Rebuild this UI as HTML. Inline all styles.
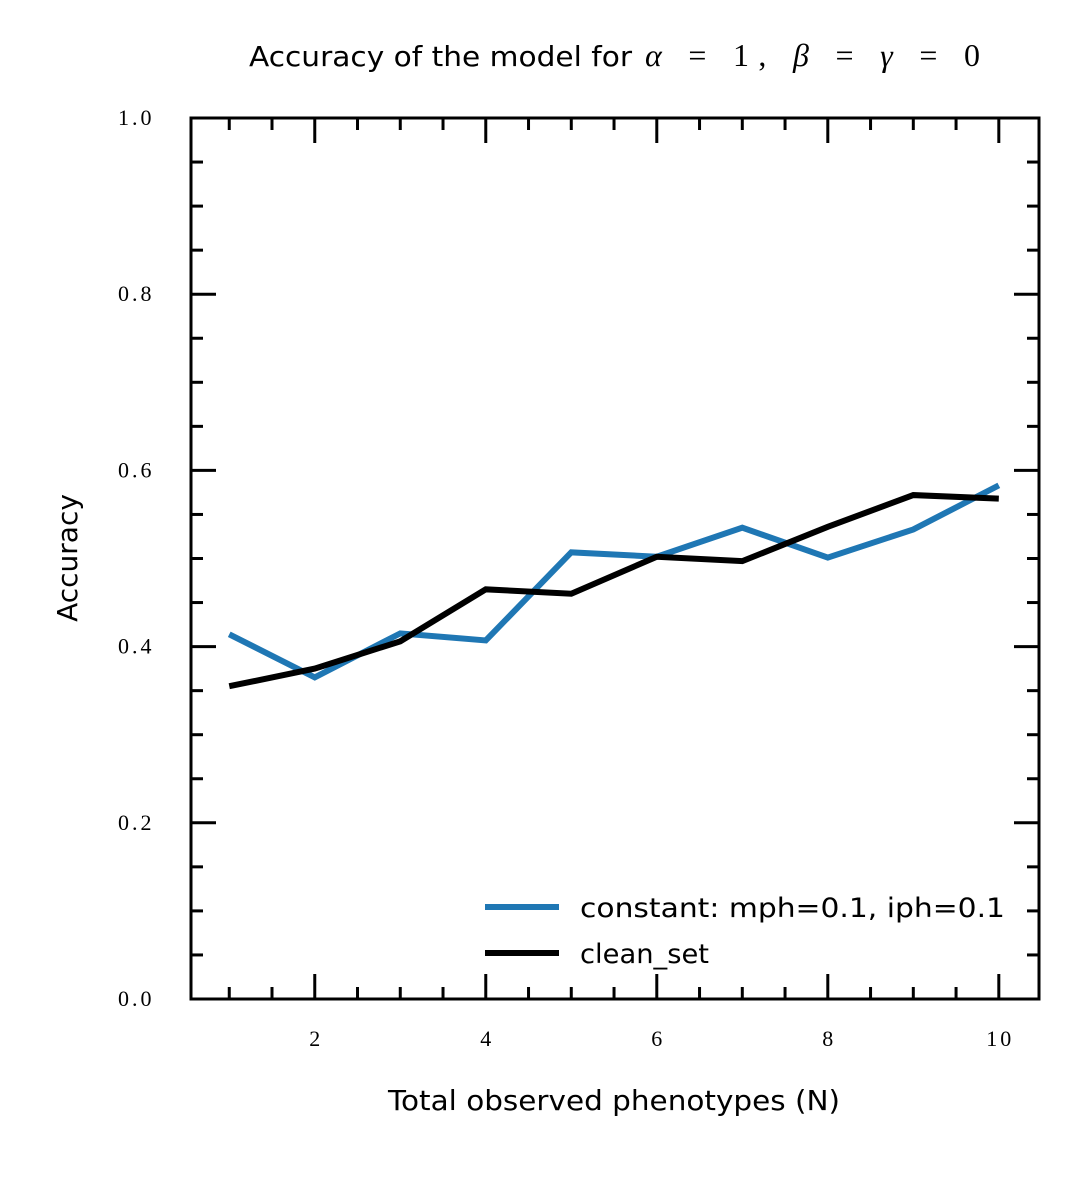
<!DOCTYPE html>
<html><head><meta charset="utf-8"><style>
body{margin:0;background:#fff;}
svg{display:block;}
.tk{font-family:"Liberation Serif",serif;font-size:22px;fill:#000;letter-spacing:3px;}
.sans{font-family:"DejaVu Sans","Liberation Sans",sans-serif;fill:#000;}
.math{font-family:"Liberation Serif",serif;fill:#000;font-size:32px;}
</style></head><body>
<svg id="chart" width="1091" height="1177" viewBox="0 0 1091 1177">
<g>
<text class="sans" x="249" y="66" font-size="28" textLength="383" lengthAdjust="spacingAndGlyphs">Accuracy of the model for</text>
<text class="math" x="645" y="66" textLength="335" lengthAdjust="spacing"><tspan font-style="italic">α</tspan> = 1, <tspan font-style="italic">β</tspan> = <tspan font-style="italic">γ</tspan> = 0</text>
</g>
<g id="ticks"></g>
<g id="lines"></g>
<rect x="191" y="118" width="848" height="881" fill="none" stroke="#000" stroke-width="3"/>
<text class="sans" x="388" y="1110" font-size="28" textLength="452" lengthAdjust="spacingAndGlyphs">Total observed phenotypes (N)</text>
<text class="sans" x="0" y="0" font-size="28" text-anchor="middle" transform="translate(77,558) rotate(-90)">Accuracy</text>
<g>
<line x1="485" y1="907" x2="559" y2="907" stroke="#1f77b4" stroke-width="6"/>
<text class="sans" x="580" y="917" font-size="27" textLength="425" lengthAdjust="spacingAndGlyphs">constant: mph=0.1, iph=0.1</text>
<line x1="485" y1="953" x2="559" y2="953" stroke="#000" stroke-width="6"/>
<text class="sans" x="580" y="963" font-size="27" textLength="129" lengthAdjust="spacingAndGlyphs">clean_set</text>
</g>
</svg>
<script>
const xs=[1,2,3,4,5,6,7,8,9,10];
const constantVals=[0.414,0.365,0.415,0.407,0.507,0.502,0.535,0.501,0.533,0.583];
const cleanVals=[0.355,0.375,0.406,0.465,0.46,0.502,0.497,0.536,0.572,0.568];
const xTickLabels=[2,4,6,8,10];
const yTickLabels=[0.0,0.2,0.4,0.6,0.8,1.0];
const NS="http://www.w3.org/2000/svg";
const L=191,R=1039,T=118,B=999;
const xmin=0.5526,xmax=10.47;
const X=v=>L+(v-xmin)/(xmax-xmin)*(R-L);
const Y=v=>B-v*(B-T);
const tg=document.getElementById('ticks');
function ln(g,x1,y1,x2,y2,c,w){const l=document.createElementNS(NS,'line');l.setAttribute('x1',x1);l.setAttribute('y1',y1);l.setAttribute('x2',x2);l.setAttribute('y2',y2);l.setAttribute('stroke',c);l.setAttribute('stroke-width',w);g.appendChild(l);return l;}
for(let i=0;i<=20;i++){const v=i*0.05;const maj=i%4===0;const len=maj?25:12;const y=Y(v);
 let a=ln(tg,L,y,L+len,y,'#000',3);
 
 
 let b=ln(tg,R,y,R-len,y,'#000',3);
 
 }
for(let v=1;v<=10.01;v+=0.5){const maj=Math.abs(v%2)<1e-6;const len=maj?25:12;const x=X(v);
 let a=ln(tg,x,B,x,B-len,'#000',3);
 
 
 let b=ln(tg,x,T,x,T+len,'#000',3);
 
 }
yTickLabels.forEach(v=>{const t=document.createElementNS(NS,'text');t.setAttribute('class','tk');t.setAttribute('x',118);t.setAttribute('y',Y(v)+7);t.textContent=v.toFixed(1);
 
 
 tg.appendChild(t);});
xTickLabels.forEach(v=>{const t=document.createElementNS(NS,'text');t.setAttribute('class','tk');t.setAttribute('x',X(v)+1.5);t.setAttribute('y',1046);t.setAttribute('text-anchor','middle');t.textContent=v;
 
 
 tg.appendChild(t);});
const lg=document.getElementById('lines');
function series(vals,color,name){const p=document.createElementNS(NS,'polyline');p.setAttribute('points',vals.map((v,i)=>X(xs[i])+','+Y(v)).join(' '));p.setAttribute('fill','none');p.setAttribute('stroke',color);p.setAttribute('stroke-width',6);
 
 
 lg.appendChild(p);}
series(constantVals,'#1f77b4','line-constant');
series(cleanVals,'#000','line-clean-set');
</script>
</body></html>
